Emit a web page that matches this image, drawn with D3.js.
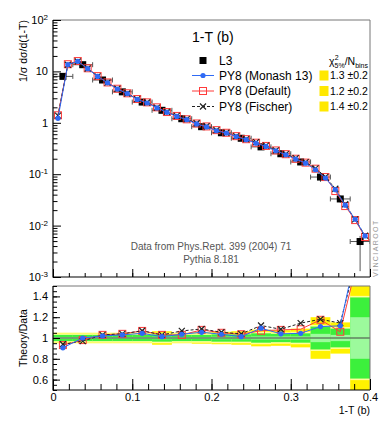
<!DOCTYPE html>
<html><head><meta charset="utf-8">
<script src="https://cdn.jsdelivr.net/npm/d3@7"></script>
<style>
body{margin:0;background:#fff;}
svg{display:block;font-family:"Liberation Sans",Arial,Helvetica,sans-serif;}
</style></head><body>
<svg id="c" width="390" height="430"></svg>
<script>
// ---------- data ----------
const l3Edges = [0,0.025,0.05,0.075,0.1,0.125,0.15,0.175,0.2,0.225,0.25,0.275,0.3,0.325,0.35,0.375,0.4];
const l3Values = [8.0,13.5,6.8,4.0,2.53,1.75,1.2,0.84,0.64,0.50,0.34,0.25,0.173,0.088,0.033,0.0049];
const l3ErrUp = [0.4,0.6,0.3,0.18,0.12,0.1,0.06,0.045,0.035,0.03,0.026,0.019,0.015,0.017,0.005,0.0014];
const l3ErrDn = [0.4,0.6,0.3,0.18,0.12,0.1,0.06,0.045,0.035,0.03,0.026,0.019,0.015,0.017,0.005,0.0036];

const mcCenters = [0.00625,0.01875,0.03125,0.04375,0.05625,0.06875,0.08125,0.09375,0.10625,0.11875,0.13125,0.14375,0.15625,0.16875,0.18125,0.19375,0.20625,0.21875,0.23125,0.24375,0.25625,0.26875,0.28125,0.29375,0.30625,0.31875,0.33125,0.34375,0.35625,0.36875,0.38125,0.39375];
const monash = [1.22,13.6,15.7,11.3,8.0,6.0,4.55,3.7,2.85,2.43,1.95,1.6,1.33,1.15,0.95,0.83,0.70,0.63,0.54,0.47,0.40,0.347,0.286,0.239,0.197,0.164,0.122,0.084,0.050,0.025,0.0133,0.0063];
const pyDefault = [1.40,13.8,15.9,11.5,8.1,6.1,4.6,3.75,2.9,2.5,2.0,1.62,1.36,1.17,0.97,0.85,0.72,0.64,0.55,0.48,0.41,0.355,0.29,0.245,0.2,0.168,0.128,0.088,0.047,0.024,0.0128,0.0060];
const fischer = [1.38,13.5,15.6,11.4,8.0,6.05,4.6,3.72,2.88,2.48,1.98,1.63,1.36,1.18,0.98,0.86,0.72,0.64,0.55,0.48,0.42,0.36,0.29,0.245,0.205,0.172,0.13,0.089,0.052,0.026,0.0132,0.0064];

const ratioMonash = [0.906,1.0,1.02,1.03,1.045,1.013,1.036,1.055,1.036,1.013,1.094,1.04,1.045,1.11,1.117,2.0];
const ratioDefault = [0.932,0.98,1.03,1.04,1.068,1.03,1.03,1.078,1.05,1.036,1.07,1.078,1.084,1.175,1.06,1.85];
const ratioFischer = [0.94,0.97,1.03,1.04,1.07,1.03,1.068,1.087,1.055,1.04,1.12,1.084,1.143,1.18,1.143,1.9];

const bandTotal = [0.05,0.05,0.05,0.05,0.05,0.065,0.05,0.055,0.06,0.065,0.08,0.075,0.09,0.2,0.15,0.6];
const bandStat  = [0.03,0.03,0.03,0.03,0.03,0.035,0.03,0.03,0.035,0.035,0.045,0.04,0.045,0.11,0.09,0.39];
const bandInner = [0.01,0.01,0.01,0.01,0.01,0.012,0.01,0.01,0.012,0.012,0.015,0.015,0.015,0.04,0.03,0.2];

const legendNames = ["L3","PY8 (Monash 13)","PY8 (Default)","PY8 (Fischer)"];
const chi2Values = ["1.3 \u00b10.2","1.2 \u00b10.2","1.4 \u00b10.2"];
const yMainTicks = [1e-3,1e-2,1e-1,1,10,100];
const yRatioTicks = [0.6,0.8,1,1.2,1.4];

// ---------- layout ----------
const svg = d3.select("#c");
svg.append("rect").attr("width",390).attr("height",430).attr("fill","#fff");
const L=53, R=370, T1=20, B1=277, T2=286, B2=390;
const x = d3.scaleLinear([0,0.4],[L,R]);
const y = d3.scaleLog([1e-3,1e2],[B1,T1]);
const yr = d3.scaleLinear([0.5,1.5],[B2,T2]);
const l3Centers = l3Values.map((v,i)=>(l3Edges[i]+l3Edges[i+1])/2);

const BLUE="#2f6af5", RED="#ff3b3b", BLK="#222";

const defs = svg.append("defs");
defs.append("clipPath").attr("id","clipMain").append("rect").attr("x",L).attr("y",T1).attr("width",R-L).attr("height",B1-T1);
defs.append("clipPath").attr("id","clipRatio").append("rect").attr("x",L).attr("y",T2).attr("width",R-L).attr("height",B2-T2);

// ---------- ratio bands ----------
const gr = svg.append("g").attr("clip-path","url(#clipRatio)");
function band(arr, col, extra){
  gr.selectAll(null).data(arr).join("rect")
    .attr("x",(d,i)=>x(l3Edges[i])).attr("width",(d,i)=>x(l3Edges[i+1])-x(l3Edges[i]))
    .attr("y",d=>yr(1+d+extra)).attr("height",d=>yr(1-d-extra)-yr(1+d+extra))
    .attr("fill",col);
}
band(bandTotal,"#fff200",0);
band(bandStat,"#ffff99",0.015);
band(bandStat,"#3cf03c",0);
band(bandInner,"#9cfa9c",0);
gr.append("line").attr("x1",L).attr("x2",R).attr("y1",yr(1)).attr("y2",yr(1)).attr("stroke","#444").attr("stroke-width",1);

// ---------- marker helpers ----------
function drawSeries(g, xs, ys, ysc, style){
  const line = d3.line().x((d,i)=>x(xs[i])).y(d=>ysc(d));
  g.append("path").datum(ys).attr("d",line).attr("fill","none")
    .attr("stroke",style.color).attr("stroke-width",1)
    .attr("stroke-dasharray",style.dash||null);
  const m = g.selectAll(null).data(ys).join("g")
    .attr("transform",(d,i)=>`translate(${x(xs[i])},${ysc(d)})`);
  addMarker(m, style.marker, style.color);
}
function addMarker(sel, type, color){
  if(type==="dot") sel.append("circle").attr("r",2.6).attr("fill",color);
  if(type==="osq") sel.append("rect").attr("x",-3.5).attr("y",-3.5).attr("width",7).attr("height",7)
      .attr("fill","none").attr("stroke",color).attr("stroke-width",1);
  if(type==="x") sel.append("path").attr("d","M-3,-3L3,3M-3,3L3,-3").attr("stroke",color).attr("stroke-width",1.2);
  if(type==="sq") sel.append("rect").attr("x",-3.5).attr("y",-3.5).attr("width",7).attr("height",7).attr("fill","#000");
}

// ---------- main panel data ----------
const gm = svg.append("g").attr("clip-path","url(#clipMain)");
const eb = gm.selectAll(null).data(l3Values).join("g").attr("stroke","#555").attr("stroke-width",1);
eb.append("line").attr("x1",(d,i)=>x(l3Edges[i])).attr("x2",(d,i)=>x(l3Edges[i+1]))
  .attr("y1",d=>y(d)).attr("y2",d=>y(d));
eb.append("line").attr("x1",(d,i)=>x(l3Edges[i])).attr("x2",(d,i)=>x(l3Edges[i]))
  .attr("y1",d=>y(d)-2.5).attr("y2",d=>y(d)+2.5);
eb.append("line").attr("x1",(d,i)=>x(l3Edges[i+1])).attr("x2",(d,i)=>x(l3Edges[i+1]))
  .attr("y1",d=>y(d)-2.5).attr("y2",d=>y(d)+2.5);
eb.append("line").attr("x1",(d,i)=>x(l3Centers[i])).attr("x2",(d,i)=>x(l3Centers[i]))
  .attr("y1",(d,i)=>y(d+l3ErrUp[i])).attr("y2",(d,i)=>y(Math.max(d-l3ErrDn[i],1e-4)));
addMarker(gm.selectAll(null).data(l3Values).join("g")
  .attr("transform",(d,i)=>`translate(${x(l3Centers[i])},${y(d)})`),"sq");

drawSeries(gm, mcCenters, pyDefault, y, {color:RED, marker:"osq"});
drawSeries(gm, mcCenters, fischer, y, {color:BLK, marker:"x", dash:"3,2"});
drawSeries(gm, mcCenters, monash, y, {color:BLUE, marker:"dot"});

// ---------- ratio series ----------
drawSeries(gr, l3Centers, ratioDefault, yr, {color:RED, marker:"osq"});
drawSeries(gr, l3Centers, ratioFischer, yr, {color:BLK, marker:"x", dash:"3,2"});
drawSeries(gr, l3Centers, ratioMonash, yr, {color:BLUE, marker:"dot"});

// ---------- frames ----------
function frame(t,b){
  svg.append("path").attr("d",`M${L},${t}H${R}V${b}`).attr("fill","none").attr("stroke","#777").attr("stroke-width",1);
  svg.append("path").attr("d",`M${L},${t}V${b}H${R}`).attr("fill","none").attr("stroke","#000").attr("stroke-width",1.2);
}
frame(T1,B1); frame(T2,B2);

// ---------- axes ----------
const fs = 11;
function styleAxis(g){ g.select(".domain").remove(); g.selectAll(".tick line").attr("stroke","#000"); g.selectAll("text").attr("font-size",fs).attr("fill","#000").attr("font-family",'"Liberation Sans",Arial,sans-serif'); }

const yMinor = y.ticks().filter(v=>!yMainTicks.some(t=>Math.abs(t-v)/v<1e-6));
svg.append("g").attr("transform",`translate(${L},0)`)
  .call(d3.axisLeft(y).tickValues(yMinor).tickSize(-4.5).tickFormat("")).call(styleAxis);
const gy = svg.append("g").attr("transform",`translate(${L},0)`)
  .call(d3.axisLeft(y).tickValues(yMainTicks).tickSize(-8).tickPadding(5)).call(styleAxis);
gy.selectAll(".tick text").each(function(d){
  const t=d3.select(this); t.text(null);
  const e=Math.round(Math.log10(d));
  if(e===0) t.text("1");
  else if(e===1) t.text("10");
  else { t.append("tspan").text("10"); t.append("tspan").attr("dy","-0.5em").attr("font-size","8px").text(e); }
});
svg.append("g").attr("transform",`translate(0,${B1})`)
  .call(d3.axisBottom(x).tickValues(x.ticks(20)).tickSize(-4).tickFormat("")).call(styleAxis);
svg.append("g").attr("transform",`translate(0,${B1})`)
  .call(d3.axisBottom(x).tickValues(x.ticks(4)).tickSize(-8).tickFormat("")).call(styleAxis);

svg.append("g").attr("transform",`translate(${L},0)`)
  .call(d3.axisLeft(yr).tickValues(yr.ticks(20)).tickSize(-4).tickFormat("")).call(styleAxis);
svg.append("g").attr("transform",`translate(${L},0)`)
  .call(d3.axisLeft(yr).tickValues(yRatioTicks).tickSize(-7).tickPadding(5).tickFormat(d=>d3.format("~g")(d))).call(styleAxis);
svg.append("g").attr("transform",`translate(0,${B2})`)
  .call(d3.axisBottom(x).tickValues(x.ticks(20)).tickSize(-6).tickFormat("")).call(styleAxis);
svg.append("g").attr("transform",`translate(0,${B2})`)
  .call(d3.axisBottom(x).tickValues(x.ticks(4)).tickSize(-11).tickPadding(3).tickFormat(d=>d===0?"0":d3.format(".1f")(d))).call(styleAxis);

// ---------- titles ----------
svg.append("text").attr("transform",`translate(27,${T1}) rotate(-90)`).attr("text-anchor","end")
  .attr("font-size",10.5).text("1/\u03c3 d\u03c3/d(1-T)");
svg.append("text").attr("transform",`translate(27,${yr(1)}) rotate(-90)`).attr("text-anchor","middle")
  .attr("font-size",10.5).text("Theory/Data");
svg.append("text").attr("x",R).attr("y",414).attr("text-anchor","end").attr("font-size",10.5).text("1-T (b)");
svg.append("text").attr("x",192).attr("y",42).attr("font-size",14).text("1-T (b)");

svg.append("text").attr("x",211).attr("y",249.5).attr("text-anchor","middle").attr("font-size",10).attr("fill","#555")
  .text("Data from Phys.Rept. 399 (2004) 71");
svg.append("text").attr("x",211).attr("y",262.5).attr("text-anchor","middle").attr("font-size",10).attr("fill","#555")
  .text("Pythia 8.181");
svg.append("text").attr("transform",`translate(378,${B1}) rotate(-90)`).attr("font-size",7)
  .attr("letter-spacing",1.4).attr("fill","#999").text("VINCIAROOT");

// ---------- legend ----------
const legY = [60.5,75.5,91,106.5];
const leg = svg.append("g");
const styles = [{marker:"sq"},{color:BLUE,marker:"dot"},{color:RED,marker:"osq"},{color:BLK,marker:"x",dash:"3,2"}];
legendNames.forEach((n,i)=>{
  const g = leg.append("g").attr("transform",`translate(0,${legY[i]})`);
  if(i>0) g.append("line").attr("x1",192).attr("x2",214).attr("stroke",styles[i].color).attr("stroke-width",1)
    .attr("stroke-dasharray",styles[i].dash||null);
  addMarker(g.append("g").attr("transform","translate(203,0)"), styles[i].marker, styles[i].color);
  g.append("text").attr("x",219).attr("dy","0.36em").attr("font-size",12).text(n);
});
const ch = svg.append("text").attr("x",368).attr("y",65).attr("text-anchor","end").attr("font-size",10.5);
ch.append("tspan").text("\u03c7");
ch.append("tspan").attr("dy",-5).attr("font-size",7).text("2");
ch.append("tspan").attr("dx",-4).attr("dy",8).attr("font-size",7).text("5%");
ch.append("tspan").attr("dy",-3).text("/N");
ch.append("tspan").attr("dy",3).attr("font-size",7).text("bins");
chi2Values.forEach((c,i)=>{
  svg.append("rect").attr("x",319.5).attr("y",legY[i+1]-5).attr("width",9).attr("height",10).attr("fill","#ffe800");
  svg.append("text").attr("x",330).attr("y",legY[i+1]).attr("dy","0.36em").attr("font-size",10.5).text(c);
});
</script>
</body></html>
